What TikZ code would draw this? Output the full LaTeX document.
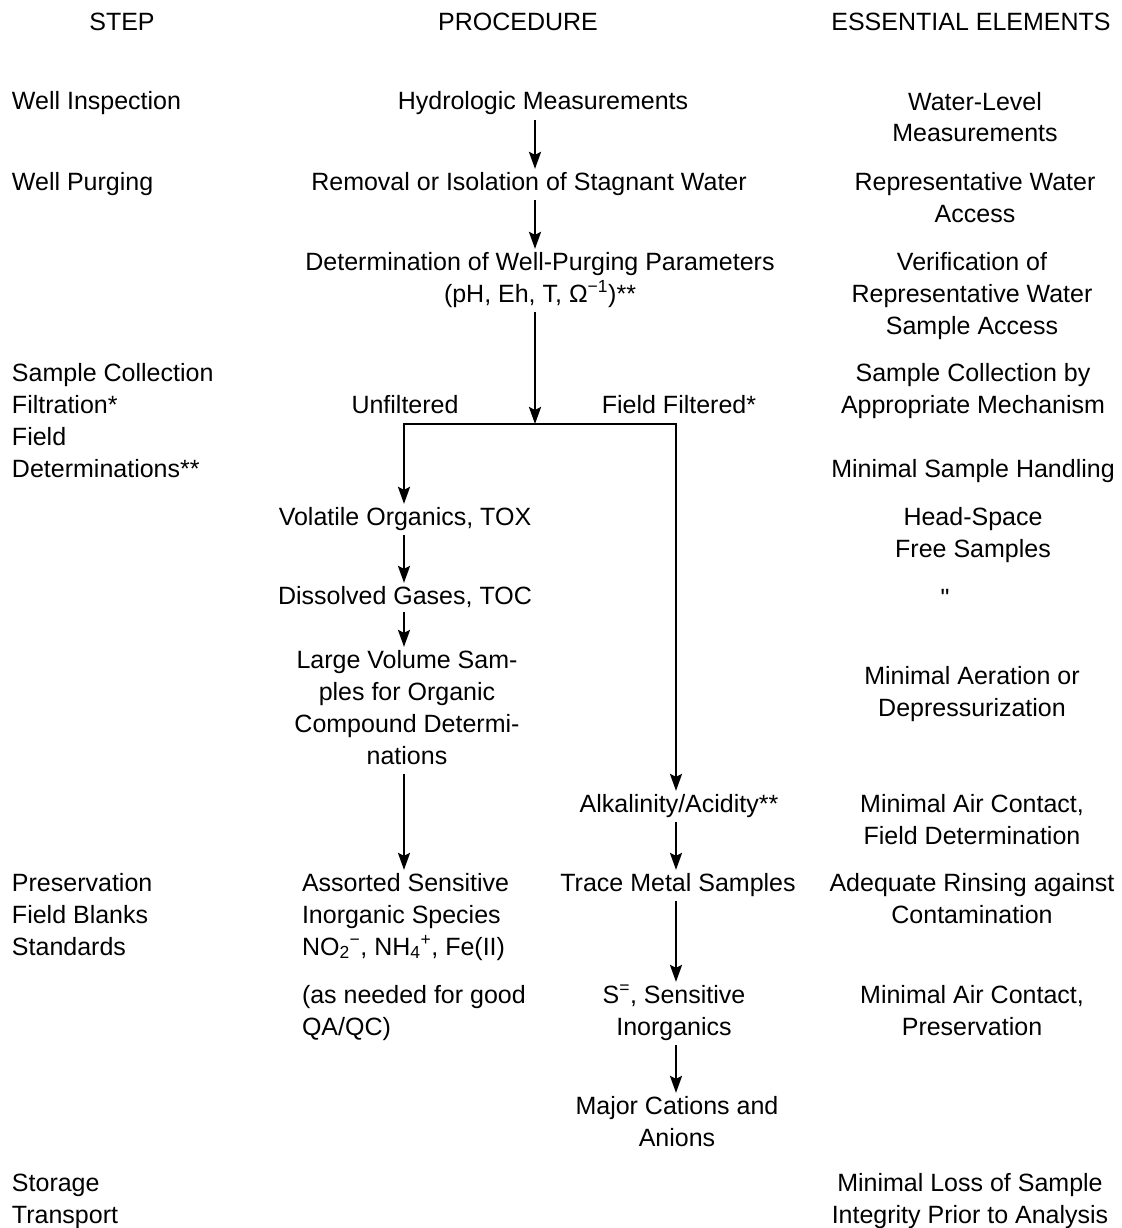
\documentclass[tikz,border=0pt]{standalone}
\usepackage{fontspec}
\setmainfont{Liberation Sans}
\newfontfamily\plainfont[Ligatures=TeXOff]{Liberation Sans}
\usetikzlibrary{arrows.meta}
\begin{document}
\begin{tikzpicture}[x=1pt,y=-1pt,
  every node/.style={font=\fontsize{25}{32}\selectfont, inner sep=0pt, outer sep=0pt},
  txt/.style={anchor=base, align=center},
  ltxt/.style={anchor=base west, align=left},
  conn/.style={line width=2.5pt, -{Stealth[length=17pt,width=12pt,inset=3pt]}, shorten >=3pt, shorten <=5pt},
  plain/.style={line width=2.5pt, line cap=rect}]
\useasboundingbox (0,0) rectangle (1121,1228);

% headers
\node[txt] (hstep) at (122,31) {STEP};
\node[txt] (hproc) at (518,31) {PROCEDURE};
\node[txt] (hess) at (971,31) {ESSENTIAL ELEMENTS};

% step column (base = last line baseline)
\node[ltxt] (s1) at (12,110) {Well Inspection};
\node[ltxt] (s2) at (12,190) {Well Purging};
\node[ltxt] (s3) at (12,477) {Sample Collection\\Filtration*\\Field\\Determinations**};
\node[ltxt] (s4) at (12,955) {Preservation\\Field Blanks\\Standards};
\node[ltxt] (s5) at (12,1223) {Storage\\Transport};

% procedure column
\node[txt] (hydro) at (543,110) {Hydrologic Measurements};
\node[txt] (remov) at (529,190) {Removal or Isolation of Stagnant Water};
\node[txt] (determ) at (540,302) {Determination of Well-Purging Parameters\\(pH, Eh, T, Ω\textsuperscript{−1})**};
\node[txt] (unf) at (405,413) {Unfiltered};
\node[txt] (ff) at (679,413) {Field Filtered*};
\node[txt] (vol) at (405,525) {Volatile Organics, TOX};
\node[txt] (dis) at (405,604) {Dissolved Gases, TOC};
\node[txt] (large) at (407,764) {Large Volume Sam-\\ples for Organic\\Compound Determi-\\nations};
\node[ltxt] (assort) at (302,955) {Assorted Sensitive\\Inorganic Species\\NO\textsubscript{2}\textsuperscript{−}, NH\textsubscript{4}\textsuperscript{+}, Fe(II)};
\node[ltxt] (qa) at (302,1035) {(as needed for good\\QA/QC)};
\node[txt] (alk) at (679,812) {Alkalinity/Acidity**};
\node[txt] (trace) at (678,891) {Trace Metal Samples};
\node[txt] (sulf) at (674,1035) {S\textsuperscript{=}, Sensitive\\Inorganics};
\node[txt] (major) at (677,1146) {Major Cations and\\Anions};

% essential elements column
\node[txt] (e1) at (975,142) {Water-Level\\Measurements};
\node[txt] (e2) at (975,222) {Representative Water\\Access};
\node[txt] (e3) at (972,334) {Verification of\\Representative Water\\Sample Access};
\node[txt] (e4) at (973,413) {Sample Collection by\\Appropriate Mechanism};
\node[txt] (e5) at (973,477) {Minimal Sample Handling};
\node[txt] (e6) at (973,557) {Head-Space\\Free Samples};
\node[txt] (e7) at (945,606) {\plainfont "};
\node[txt] (e8) at (972,716) {Minimal Aeration or\\Depressurization};
\node[txt] (e9) at (972,844) {Minimal Air Contact,\\Field Determination};
\node[txt] (e10) at (972,923) {Adequate Rinsing against\\Contamination};
\node[txt] (e11) at (972,1035) {Minimal Air Contact,\\Preservation};
\node[txt] (e12) at (970,1223) {Minimal Loss of Sample\\Integrity Prior to Analysis};

% connectors
\coordinate (split) at (535,424);
\coordinate (lc) at (404,424);
\coordinate (rc) at (676,424);
\draw[conn] (hydro.south -| split) -- (remov.north -| split);
\draw[conn] (remov.south -| split) -- (determ.north -| split);
\draw[conn, shorten >=0pt] (determ.south -| split) -- (split);
\draw[plain] (lc) -- (rc);
\draw[conn, shorten <=0pt] (lc) -- (vol.north -| lc);
\draw[conn, shorten <=0pt] (rc) -- (alk.north -| rc);
\draw[conn] (vol.south -| lc) -- (dis.north -| lc);
\draw[conn] (dis.south -| lc) -- (large.north -| lc);
\draw[conn, shorten <=10pt] (large.south -| lc) -- (assort.north -| lc);
\draw[conn] (alk.south -| rc) -- (trace.north -| rc);
\draw[conn] (trace.south -| rc) -- (sulf.north -| rc);
\draw[conn] (sulf.south -| rc) -- (major.north -| rc);
\end{tikzpicture}
\end{document}
